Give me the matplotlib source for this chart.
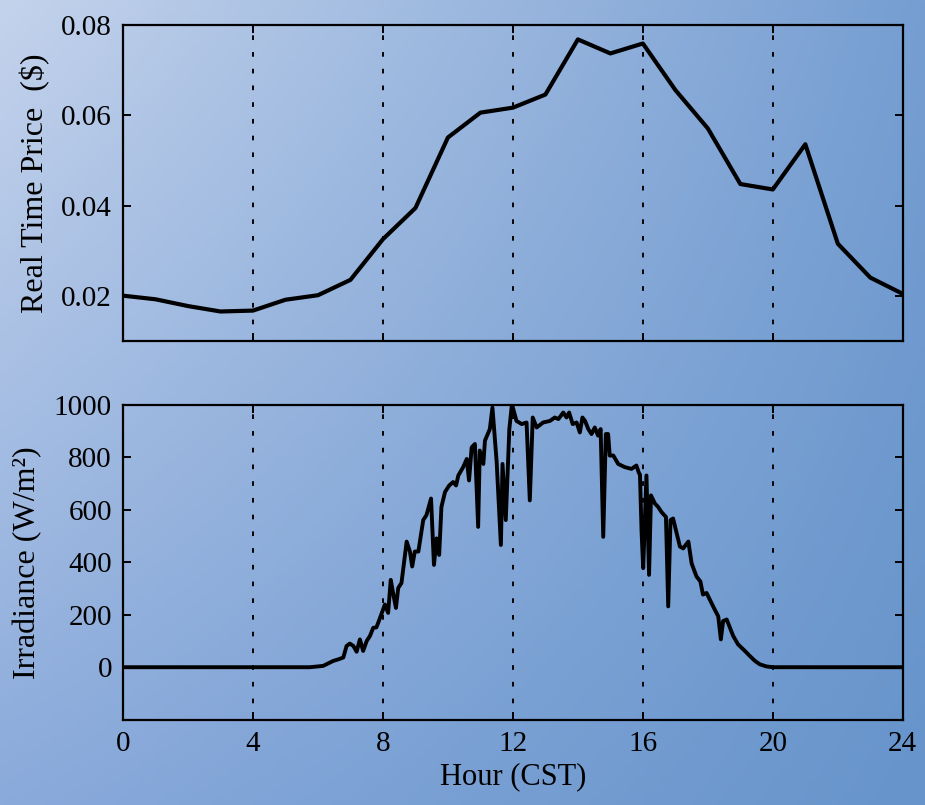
import matplotlib
matplotlib.use('Agg')
import matplotlib.pyplot as plt
import numpy as np

# ── data ──
price_hours = list(range(25))
price = [0.0201, 0.0193, 0.0178, 0.0166, 0.0168, 0.0192, 0.0202, 0.0236, 0.0326,
         0.0395, 0.0551, 0.0606, 0.0617, 0.0646, 0.0768, 0.0737, 0.0759, 0.0656,
         0.0571, 0.0448, 0.0436, 0.0536, 0.0316, 0.0241, 0.0205]

irr_hours = [0.0, 2.0, 4.0, 5.75, 6.16, 6.47, 6.63, 6.78, 6.88, 6.98, 7.09, 7.19,
             7.29, 7.39, 7.50, 7.60, 7.70, 7.80, 7.91, 8.06, 8.16, 8.24, 8.32,
             8.40, 8.47, 8.57, 8.73, 8.83, 8.90, 8.98, 9.09, 9.24, 9.34, 9.48,
             9.57, 9.65, 9.73, 9.80, 9.91, 10.04, 10.16, 10.25, 10.32, 10.47,
             10.58, 10.65, 10.73, 10.83, 10.93, 10.98, 11.09, 11.14, 11.29,
             11.37, 11.50, 11.63, 11.68, 11.78, 11.89, 11.97, 12.11, 12.27,
             12.42, 12.52, 12.61, 12.73, 12.93, 13.14, 13.29, 13.40, 13.55,
             13.65, 13.73, 13.84, 13.96, 14.06, 14.14, 14.22, 14.32, 14.42,
             14.52, 14.62, 14.70, 14.78, 14.86, 14.93, 14.98, 15.09, 15.24,
             15.44, 15.65, 15.80, 15.88, 15.91, 15.96, 16.01, 16.11, 16.19,
             16.25, 16.37, 16.47, 16.57, 16.71, 16.78, 16.85, 16.93, 17.03,
             17.14, 17.24, 17.40, 17.50, 17.65, 17.77, 17.85, 17.96, 18.06,
             18.21, 18.32, 18.40, 18.47, 18.58, 18.68, 18.78, 18.93, 19.14,
             19.29, 19.45, 19.60, 19.80, 20.0, 22.0, 24.0]
irradiance = [0, 0, 0, 0, 5, 24, 30, 37, 81, 90, 81, 59,
              106, 62, 100, 119, 150, 152, 188, 239, 207, 333, 277,
              226, 302, 321, 479, 441, 384, 441, 441, 561, 580, 643,
              390, 491, 428, 611, 668, 693, 706, 693, 731, 763,
              794, 712, 838, 851, 535, 826, 775, 864, 908,
              990, 782, 466, 775, 561, 908, 1003, 939, 927,
              933, 636, 952, 914, 933, 939, 952, 946, 971,
              952, 971, 927, 933, 895, 952, 939, 908, 889,
              914, 883, 908, 497, 889, 889, 807, 807, 775,
              763, 756, 769, 740, 735, 516, 378, 731, 352,
              655, 624, 611, 592, 573, 232, 561, 567, 516,
              460, 453, 479, 396, 346, 327, 277, 283, 258,
              220, 194, 106, 176, 182, 150, 119, 87, 62,
              43, 24, 11, 3, 0, 0, 0]

hour_ticks = [0, 4, 8, 12, 16, 20, 24]
grid_hours = [4, 8, 12, 16, 20]
price_ticks = [0.02, 0.04, 0.06, 0.08]
price_labels = ['0.02', '0.04', '0.06', '0.08']
irr_ticks = [0, 200, 400, 600, 800, 1000]

plt.rcParams['font.family'] = ['Liberation Serif', 'DejaVu Serif']
TICK_FS = 21
LABEL_FS = 23

fig = plt.figure(figsize=(9.25, 8.05), dpi=100)

# ── gradient background ──
bg = fig.add_axes([0, 0, 1, 1], zorder=-10)
tl = np.array([196, 211, 236]) / 255
tr = np.array([118, 158, 210]) / 255
bl = np.array([138, 170, 219]) / 255
br = np.array([102, 148, 203]) / 255
u = np.linspace(0, 1, 200)[None, :, None]
v = np.linspace(0, 1, 200)[:, None, None]
img = (1 - v) * ((1 - u) * tl + u * tr) + v * ((1 - u) * bl + u * br)
bg.imshow(img, aspect='auto', extent=[0, 1, 0, 1], origin='upper')
bg.axis('off')


def style(ax):
    ax.set_facecolor('none')
    for s in ax.spines.values():
        s.set_linewidth(1.6)
        s.set_color('black')
    ax.tick_params(direction='in', length=6, width=1.4, top=True, right=True,
                   labelsize=TICK_FS, pad=8)
    for h in grid_hours:
        ax.axvline(h, color='black', linestyle=(0, (2.4, 6.2)), lw=1.4, zorder=1)
    ax.set_xlim(0, 24)
    ax.set_xticks(hour_ticks)


ax1 = fig.add_axes([0.133, 0.576, 0.843, 0.393])
style(ax1)
ax1.plot(price_hours, price, color='black', lw=3.0, zorder=3)
ax1.set_ylim(0.01, 0.08)
ax1.set_yticks(price_ticks)
ax1.set_yticklabels(price_labels)
ax1.set_xticklabels([])
ax1.set_ylabel('Real Time Price  ($)', fontsize=LABEL_FS, labelpad=8)

ax2 = fig.add_axes([0.133, 0.106, 0.843, 0.391])
style(ax2)
ax2.plot(irr_hours, irradiance, color='black', lw=2.8, zorder=3)
ax2.set_ylim(-200, 1000)
ax2.set_yticks(irr_ticks)
ax2.set_ylabel('Irradiance (W/m²)', fontsize=LABEL_FS, labelpad=8)
ax2.set_xlabel('Hour (CST)', fontsize=22, labelpad=4)

fig.savefig('out.png', dpi=100)
